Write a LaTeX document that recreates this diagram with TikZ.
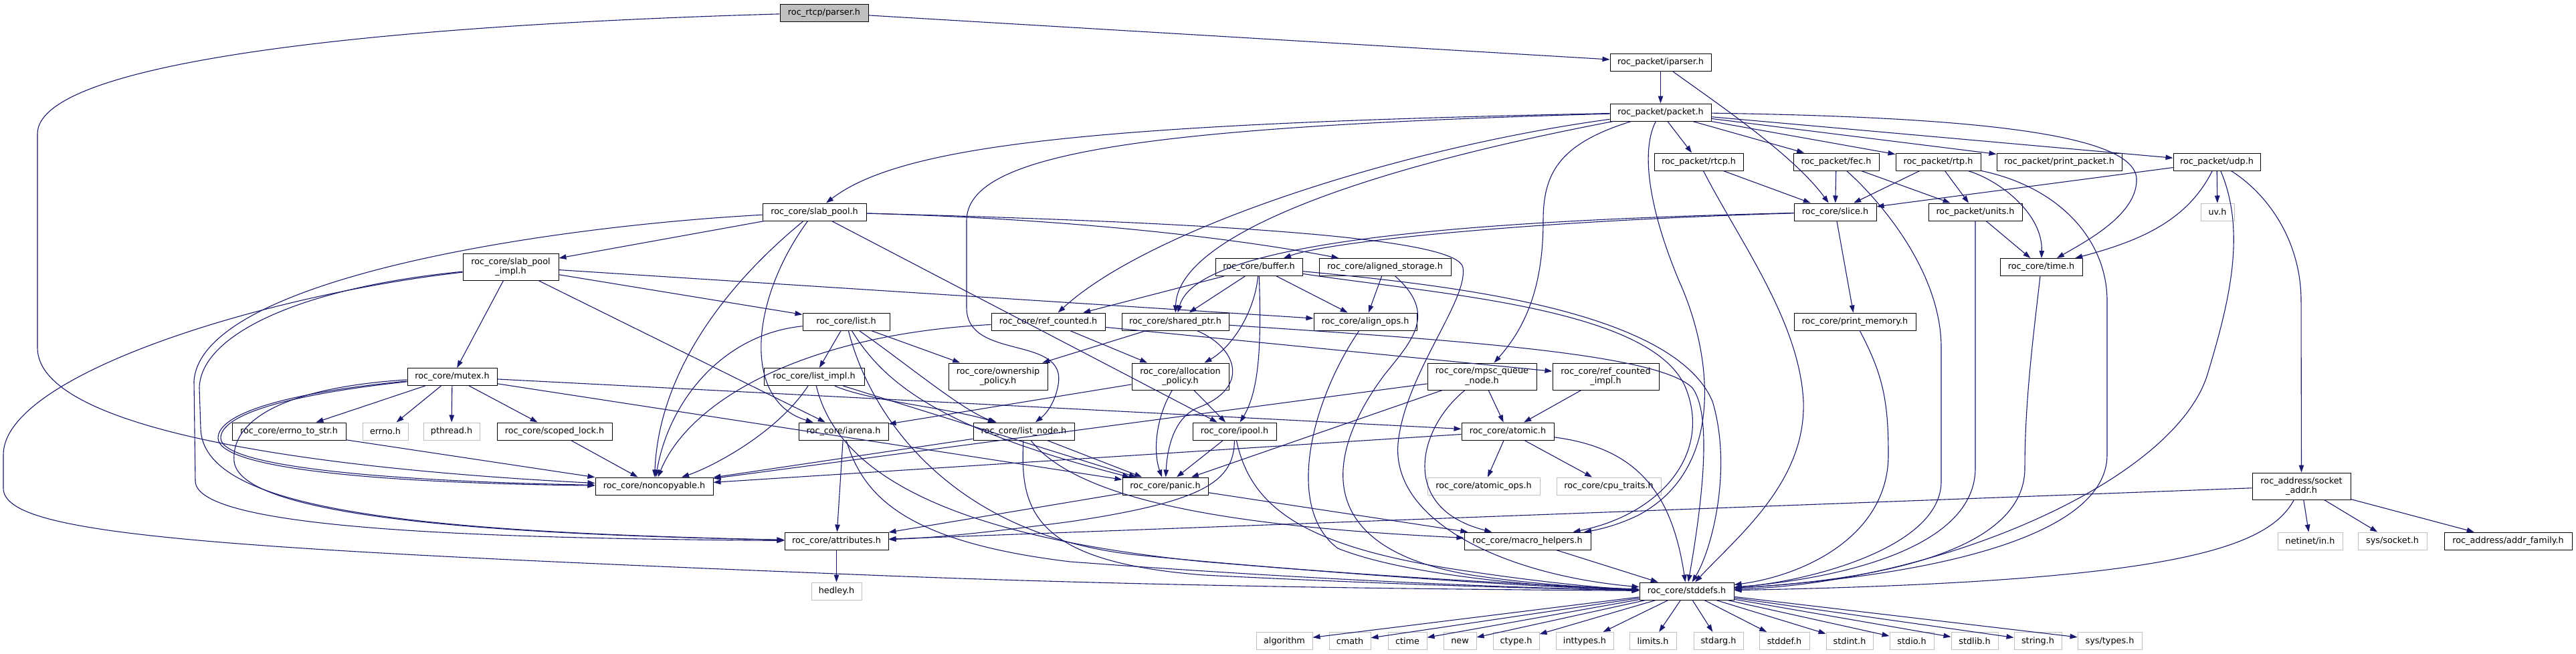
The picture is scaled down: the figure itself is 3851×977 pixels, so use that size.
\documentclass[tikz,border=0pt]{standalone}
\usepackage{fontspec}
\newfontfamily\dv{DejaVu Sans}
\usetikzlibrary{arrows.meta}
\definecolor{edgecol}{RGB}{25,25,112}
\definecolor{gborder}{RGB}{191,191,191}
\tikzset{
  nb/.style={draw=black, line width=1pt, fill=white, rectangle, minimum height=26pt, inner sep=0pt, align=center, font=\dv\fontsize{12.8}{14.6}\selectfont},
  nbt/.style={nb, minimum height=40pt},
  gb/.style={nb, draw=gborder},
  edg/.style={draw=edgecol, line width=1.1pt, -{Triangle[length=11pt,width=7.5pt]}},
}
\begin{document}
\begin{tikzpicture}[x=1pt,y=-1pt]
\fill[white] (0,0) rectangle (3851,977);
\useasboundingbox (0,0) rectangle (3851,977);
% ---------- nodes ----------
\node[nb,minimum width=132pt,fill=gborder] (parser) at (1232,19) {roc\_rtcp/parser.h};
\node[nb,minimum width=151pt] (iparser) at (2482.5,93.5) {roc\_packet/iparser.h};
\node[nb,minimum width=151pt] (packet) at (2482.5,168) {roc\_packet/packet.h};
\node[nb,minimum width=155pt] (slabpool) at (1217.5,317) {roc\_core/slab\_pool.h};
\node[nb,minimum width=133pt] (rtcp) at (2539.5,242) {roc\_packet/rtcp.h};
\node[nb,minimum width=128pt] (fec) at (2745,242) {roc\_packet/fec.h};
\node[nb,minimum width=127pt] (rtp) at (2897.5,242) {roc\_packet/rtp.h};
\node[nb,minimum width=187pt] (printpacket) at (3078.5,242) {roc\_packet/print\_packet.h};
\node[nb,minimum width=130pt] (udp) at (3314,242) {roc\_packet/udp.h};
\node[nb,minimum width=123pt] (slice) at (2743.5,317) {roc\_core/slice.h};
\node[nb,minimum width=140pt] (units) at (2953,317) {roc\_packet/units.h};
\node[gb,minimum width=50pt] (uv) at (3315,317) {uv.h};
\node[nbt,minimum width=143pt] (slabimpl) at (763.5,399) {roc\_core/slab\_pool\\\_impl.h};
\node[nb,minimum width=130pt] (buffer) at (1882,399.5) {roc\_core/buffer.h};
\node[nb,minimum width=197pt] (alignedst) at (2070.5,399.5) {roc\_core/aligned\_storage.h};
\node[nb,minimum width=123pt] (time) at (3051.5,399.5) {roc\_core/time.h};
\node[nb,minimum width=130pt] (list) at (1265,481) {roc\_core/list.h};
\node[nb,minimum width=170pt] (refcounted) at (1567,481) {roc\_core/ref\_counted.h};
\node[nb,minimum width=160pt] (sharedptr) at (1757,481) {roc\_core/shared\_ptr.h};
\node[nb,minimum width=154pt] (alignops) at (2041,481) {roc\_core/align\_ops.h};
\node[nb,minimum width=182pt] (printmem) at (2773,481) {roc\_core/print\_memory.h};
\node[nb,minimum width=134pt] (mutex) at (676,563.5) {roc\_core/mutex.h};
\node[nb,minimum width=150pt] (listimpl) at (1217,563.5) {roc\_core/list\_impl.h};
\node[nbt,minimum width=148pt] (ownership) at (1492,563) {roc\_core/ownership\\\_policy.h};
\node[nbt,minimum width=145pt] (allocation) at (1764.5,563) {roc\_core/allocation\\\_policy.h};
\node[nbt,minimum width=163pt] (mpsc) at (2215.5,563) {roc\_core/mpsc\_queue\\\_node.h};
\node[nbt,minimum width=159pt] (refimpl) at (2400.5,563) {roc\_core/ref\_counted\\\_impl.h};
\node[nb,minimum width=170pt] (errnostr) at (432,645) {roc\_core/errno\_to\_str.h};
\node[gb,minimum width=68pt] (errno) at (576,645) {errno.h};
\node[gb,minimum width=84pt] (pthread) at (675,645) {pthread.h};
\node[nb,minimum width=172pt] (scopedlock) at (829,645) {roc\_core/scoped\_lock.h};
\node[nb,minimum width=134pt] (arena) at (1261,645) {roc\_core/iarena.h};
\node[nb,minimum width=151pt] (listnode) at (1530.5,645) {roc\_core/list\_node.h};
\node[nb,minimum width=125pt] (ipool) at (1845.5,645) {roc\_core/ipool.h};
\node[nb,minimum width=138pt] (atomic) at (2254,645) {roc\_core/atomic.h};
\node[nb,minimum width=176pt] (noncopy) at (978,727) {roc\_core/noncopyable.h};
\node[nb,minimum width=128pt] (panic) at (1742,727) {roc\_core/panic.h};
\node[gb,minimum width=168pt] (atomicops) at (2218,727) {roc\_core/atomic\_ops.h};
\node[gb,minimum width=156pt] (cputraits) at (2405,727) {roc\_core/cpu\_traits.h};
\node[nbt,minimum width=147pt] (sockaddr) at (3440.5,727) {roc\_address/socket\\\_addr.h};
\node[nb,minimum width=155pt] (attributes) at (1250.5,809) {roc\_core/attributes.h};
\node[nb,minimum width=189pt] (macrohelp) at (2283.5,809) {roc\_core/macro\_helpers.h};
\node[gb,minimum width=97pt] (netinet) at (3453.5,809) {netinet/in.h};
\node[gb,minimum width=103pt] (syssocket) at (3576.5,809) {sys/socket.h};
\node[nb,minimum width=191pt] (addrfamily) at (3749.5,809) {roc\_address/addr\_family.h};
\node[gb,minimum width=75pt] (hedley) at (1250.5,884) {hedley.h};
\node[nb,minimum width=141pt] (stddefs) at (2521.5,884) {roc\_core/stddefs.h};
\node[gb,minimum width=84pt] (algorithm) at (1920,958.5) {algorithm};
\node[gb,minimum width=62pt] (cmath) at (2018,958.5) {cmath};
\node[gb,minimum width=58pt] (ctime) at (2104,958.5) {ctime};
\node[gb,minimum width=49pt] (new) at (2182.5,958.5) {new};
\node[gb,minimum width=69pt] (ctype) at (2266.5,958.5) {ctype.h};
\node[gb,minimum width=86pt] (inttypes) at (2369,958.5) {inttypes.h};
\node[gb,minimum width=70pt] (limits) at (2471,958.5) {limits.h};
\node[gb,minimum width=74pt] (stdarg) at (2569,958.5) {stdarg.h};
\node[gb,minimum width=75pt] (stddef) at (2667.5,958.5) {stddef.h};
\node[gb,minimum width=70pt] (stdint) at (2765,958.5) {stdint.h};
\node[gb,minimum width=66pt] (stdio) at (2858,958.5) {stdio.h};
\node[gb,minimum width=70pt] (stdlib) at (2952,958.5) {stdlib.h};
\node[gb,minimum width=71pt] (string) at (3046.5,958.5) {string.h};
\node[gb,minimum width=96pt] (systypes) at (3154,958.5) {sys/types.h};
% ---------- edges ----------
% parser
\draw[edg] (parser) -- (iparser);
\draw[edg] (parser) .. controls (500,40) and (56,100) .. (56,200) -- (56,520) .. controls (56,640) and (450,700) .. (noncopy);
% iparser
\draw[edg] (iparser) -- (packet);
\draw[edg] (iparser) .. controls (2560,150) and (2680,230) .. (slice);
% packet
\draw[edg] (packet) .. controls (1650,185) and (1350,215) .. (slabpool);
\draw[edg] (packet) .. controls (1700,190) and (1445,230) .. (1445,330) -- (1445,460) .. controls (1445,540) and (1595,500) .. (1582,575) .. controls (1578,600) and (1565,618) .. (listnode);
\draw[edg] (packet) .. controls (2100,220) and (1720,340) .. (refcounted);
\draw[edg] (packet) .. controls (2000,260) and (1760,360) .. (sharedptr);
\draw[edg] (packet) .. controls (2330,215) and (2307,260) .. (2307,330) .. controls (2307,430) and (2280,490) .. (mpsc);
\draw[edg] (packet) .. controls (2455,220) and (2460,300) .. (2510,420) .. controls (2560,530) and (2580,700) .. (2450,770) .. controls (2420,785) and (2390,792) .. (macrohelp);
\draw[edg] (packet) -- (rtcp);
\draw[edg] (packet) -- (fec);
\draw[edg] (packet) -- (rtp);
\draw[edg] (packet) -- (printpacket);
\draw[edg] (packet) -- (udp);
\draw[edg] (packet) .. controls (2950,175) and (3190,200) .. (3194,267) .. controls (3196,320) and (3120,360) .. (time);
% rtcp, fec, rtp, udp, units
\draw[edg] (rtcp) -- (slice);
\draw[edg] (rtcp) .. controls (2600,360) and (2690,480) .. (2696,600) .. controls (2700,720) and (2600,800) .. (stddefs);
\draw[edg] (fec) -- (slice);
\draw[edg] (fec) -- (units);
\draw[edg] (fec) .. controls (2800,290) and (2902,400) .. (2902,520) -- (2902,720) .. controls (2902,820) and (2700,870) .. (stddefs);
\draw[edg] (rtp) -- (slice);
\draw[edg] (rtp) -- (units);
\draw[edg] (rtp) .. controls (2990,270) and (3054,320) .. (time);
\draw[edg] (rtp) .. controls (3080,280) and (3150,360) .. (3150,450) -- (3150,680) .. controls (3150,800) and (2900,860) .. (stddefs);
\draw[edg] (udp) -- (slice);
\draw[edg] (udp) .. controls (3270,330) and (3200,360) .. (time);
\draw[edg] (udp) -- (uv);
\draw[edg] (udp) .. controls (3360,350) and (3330,460) .. (3300,560) .. controls (3250,720) and (2900,870) .. (stddefs);
\draw[edg] (udp) .. controls (3390,290) and (3440,360) .. (3440,450) -- (sockaddr);
\draw[edg] (units) -- (time);
\draw[edg] (units) -- (2953,700) .. controls (2953,820) and (2750,865) .. (stddefs);
% slice, print_memory, time
\draw[edg] (slice) -- (printmem);
\draw[edg] (slice) .. controls (2300,330) and (1990,360) .. (buffer);
\draw[edg] (slice) .. controls (2200,330) and (1790,360) .. (sharedptr);
\draw[edg] (printmem) .. controls (2815,560) and (2823,600) .. (2823,680) .. controls (2823,800) and (2700,860) .. (stddefs);
\draw[edg] (time) .. controls (3040,500) and (3027,600) .. (3027,700) .. controls (3027,840) and (2750,870) .. (stddefs);
% socket_addr
\draw[edg] (sockaddr) -- (attributes);
\draw[edg] (sockaddr) .. controls (3390,820) and (3250,870) .. (stddefs);
\draw[edg] (sockaddr) -- (netinet);
\draw[edg] (sockaddr) -- (syssocket);
\draw[edg] (sockaddr) -- (addrfamily);
% slab_pool
\draw[edg] (slabpool) -- (slabimpl);
\draw[edg] (slabpool) .. controls (1700,330) and (1940,374) .. (alignedst);
\draw[edg] (slabpool) .. controls (1900,335) and (2180,360) .. (2187,400) .. controls (2195,450) and (2100,560) .. (2090,663) .. controls (2080,780) and (2250,860) .. (stddefs);
\draw[edg] (slabpool) .. controls (800,340) and (300,420) .. (290,570) -- (292,720) .. controls (295,790) and (700,805) .. (attributes);
\draw[edg] (slabpool) .. controls (1080,430) and (985,560) .. (noncopy);
\draw[edg] (slabpool) .. controls (1120,450) and (1110,600) .. (arena);
\draw[edg] (slabpool) -- (ipool);
% slab_pool_impl
\draw[edg] (slabimpl) -- (list);
\draw[edg] (slabimpl) -- (alignops);
\draw[edg] (slabimpl) -- (mutex);
\draw[edg] (slabimpl) -- (arena);
\draw[edg] (slabimpl) .. controls (400,440) and (5,560) .. (5,680) -- (5,730) .. controls (5,800) and (300,820) .. (1300,860) .. controls (1800,880) and (2300,882) .. (stddefs);
\draw[edg] (slabimpl) .. controls (450,430) and (300,500) .. (298,580) -- (300,640) .. controls (302,760) and (600,795) .. (attributes);
% mutex
\draw[edg] (mutex) .. controls (430,590) and (330,620) .. (330,655) .. controls (330,700) and (600,720) .. (noncopy);
\draw[edg] (mutex) .. controls (430,587) and (326,618) .. (326,655) .. controls (326,704) and (600,723) .. (noncopy);
\draw[edg] (mutex) .. controls (420,580) and (345,630) .. (350,690) .. controls (360,780) and (800,800) .. (attributes);
\draw[edg] (mutex) -- (errnostr);
\draw[edg] (mutex) -- (errno);
\draw[edg] (mutex) -- (pthread);
\draw[edg] (mutex) -- (scopedlock);
\draw[edg] (mutex) -- (atomic);
\draw[edg] (mutex) -- (panic);
\draw[edg] (errnostr) -- (noncopy);
\draw[edg] (scopedlock) -- (noncopy);
% list, list_impl
\draw[edg] (list) -- (listimpl);
\draw[edg] (list) .. controls (1080,500) and (1000,600) .. (noncopy);
\draw[edg] (list) -- (ownership);
\draw[edg] (list) .. controls (1350,540) and (1440,615) .. (listnode);
\draw[edg] (list) .. controls (1320,570) and (1400,640) .. (panic);
\draw[edg] (list) .. controls (1300,620) and (1420,800) .. (1700,830) .. controls (2000,860) and (2300,875) .. (stddefs);
\draw[edg] (listimpl) .. controls (1160,650) and (1060,700) .. (noncopy);
\draw[edg] (listimpl) .. controls (1300,600) and (1420,610) .. (listnode);
\draw[edg] (listimpl) -- (panic);
\draw[edg] (listimpl) .. controls (1250,700) and (1400,800) .. (1800,840) .. controls (2100,865) and (2300,878) .. (stddefs);
% arena
\draw[edg] (arena) -- (attributes);
\draw[edg] (arena) .. controls (1290,740) and (1350,810) .. (1600,840) .. controls (2000,870) and (2300,880) .. (stddefs);
% ref_counted, shared_ptr
\draw[edg] (refcounted) -- (allocation);
\draw[edg] (refcounted) .. controls (1200,500) and (1030,600) .. (noncopy);
\draw[edg] (refcounted) -- (refimpl);
\draw[edg] (sharedptr) -- (ownership);
\draw[edg] (sharedptr) .. controls (1850,520) and (1870,580) .. (1790,610) .. controls (1755,625) and (1745,670) .. (panic);
\draw[edg] (sharedptr) .. controls (2200,510) and (2480,530) .. (2530,580) .. controls (2560,620) and (2545,750) .. (stddefs);
% buffer
\draw[edg] (buffer) -- (refcounted);
\draw[edg] (buffer) -- (sharedptr);
\draw[edg] (buffer) .. controls (1875,470) and (1840,520) .. (allocation);
\draw[edg] (buffer) .. controls (1885,500) and (1885,580) .. (ipool);
\draw[edg] (buffer) -- (alignops);
\draw[edg] (buffer) .. controls (2150,425) and (2500,460) .. (2560,600) .. controls (2590,700) and (2560,820) .. (stddefs);
\draw[edg] (buffer) .. controls (2150,440) and (2470,460) .. (2520,580) .. controls (2560,680) and (2480,770) .. (macrohelp);
% aligned storage, align ops
\draw[edg] (alignedst) -- (alignops);
\draw[edg] (alignedst) .. controls (2150,470) and (2110,510) .. (2070,560) .. controls (1980,680) and (1960,820) .. (2200,860) .. controls (2300,875) and (2400,880) .. (stddefs);
\draw[edg] (alignops) .. controls (1960,600) and (1920,760) .. (2000,820) .. controls (2100,860) and (2300,878) .. (stddefs);
% allocation policy
\draw[edg] (allocation) -- (arena);
\draw[edg] (allocation) -- (ipool);
\draw[edg] (allocation) .. controls (1725,630) and (1725,680) .. (panic);
% mpsc, ref_counted_impl, atomic
\draw[edg] (mpsc) -- (atomic);
\draw[edg] (mpsc) .. controls (2120,640) and (2090,760) .. (macrohelp);
\draw[edg] (mpsc) -- (panic);
\draw[edg] (mpsc) -- (noncopy);
\draw[edg] (refimpl) -- (atomic);
\draw[edg] (atomic) -- (atomicops);
\draw[edg] (atomic) -- (cputraits);
\draw[edg] (atomic) .. controls (2450,670) and (2500,740) .. (stddefs);
\draw[edg] (atomic) -- (noncopy);
% panic, macro helpers, attributes
\draw[edg] (panic) -- (attributes);
\draw[edg] (panic) -- (macrohelp);
\draw[edg] (macrohelp) -- (stddefs);
\draw[edg] (attributes) -- (hedley);
% list_node
\draw[edg] (listnode) -- (noncopy);
\draw[edg] (listnode) -- (panic);
\draw[edg] (listnode) .. controls (1620,760) and (1900,790) .. (macrohelp);
\draw[edg] (listnode) .. controls (1525,760) and (1540,840) .. (1800,860) .. controls (2100,875) and (2300,880) .. (stddefs);
% ipool
\draw[edg] (ipool) -- (panic);
\draw[edg] (ipool) .. controls (1845,720) and (1800,750) .. (1600,780) .. controls (1450,800) and (1380,805) .. (attributes);
\draw[edg] (ipool) .. controls (1870,760) and (1950,820) .. (2200,855) .. controls (2300,870) and (2400,880) .. (stddefs);
% stddefs
\foreach \t in {algorithm,cmath,ctime,new,ctype,inttypes,limits,stdarg,stddef,stdint,stdio,stdlib,string,systypes}
  \draw[edg] (stddefs) -- (\t);
\end{tikzpicture}
\end{document}
